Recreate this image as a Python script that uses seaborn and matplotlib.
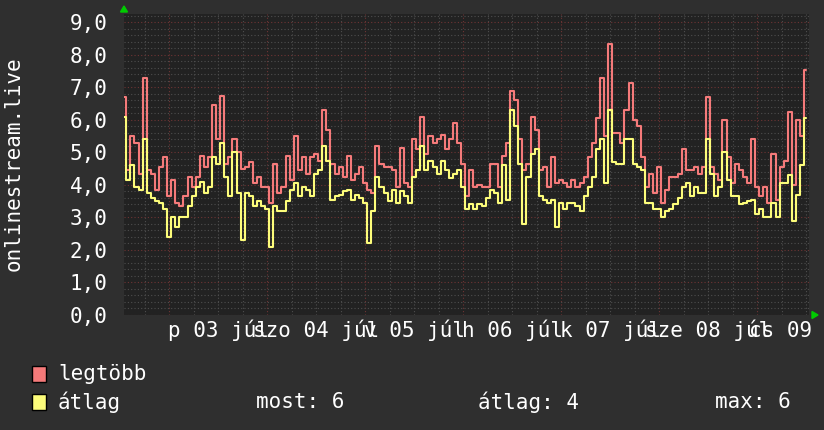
import numpy as np
import pandas as pd
import matplotlib
matplotlib.use("Agg")
import matplotlib.pyplot as plt
import matplotlib.patches as mpatches
from matplotlib.transforms import blended_transform_factory
import seaborn as sns

# ---------------- data ----------------
# hourly samples, hours relative to "p 03 júl" 00:00
hours = np.arange(-11, 157)

legtobb = [
    6.7, 4.45, 5.5, 5.3, 4.35, 7.3, 4.45, 4.35, 3.85, 4.55, 4.85, 3.65, 4.15, 3.45, 3.35,
    3.65, 4.25, 3.95, 4.25, 4.9, 4.55, 4.85, 6.45, 5.4, 6.75, 4.65, 4.85, 5.4, 5.0,
    4.5, 4.55, 4.7, 4.05, 4.25, 3.95, 3.95, 3.45, 4.65, 3.75, 3.95, 4.9, 4.15, 5.5,
    4.45, 4.85, 4.35, 4.85, 4.95, 4.75, 6.3, 5.7, 4.65, 4.35, 4.55, 4.25, 4.9, 4.15,
    4.35, 4.55, 4.05, 3.85, 3.75, 5.2, 4.65, 4.55, 4.55, 4.45, 3.95, 5.15, 4.05, 3.95,
    5.4, 5.1, 6.1, 4.95, 5.5, 5.3, 5.4, 5.55, 5.1, 5.4, 5.9, 5.3, 4.65, 3.65,
    4.45, 3.95, 4.0, 3.95, 3.95, 4.65, 4.65, 3.95, 4.9, 5.3, 6.9, 6.6, 5.4, 4.45,
    4.65, 6.1, 5.7, 4.45, 4.55, 3.95, 4.85, 4.05, 4.15, 4.05, 3.95, 4.15, 3.95, 4.05,
    4.25, 4.85, 5.3, 6.05, 7.3, 5.5, 8.35, 5.6, 5.6, 5.3, 6.3, 7.15, 6.0, 5.8,
    4.85, 3.95, 4.35, 3.75, 4.55, 3.45, 3.85, 4.25, 4.25, 4.35, 5.1, 4.45, 4.45, 4.55,
    4.35, 4.55, 6.7, 4.55, 4.35, 4.15, 6.0, 4.85, 4.05, 4.65, 4.45, 4.25, 4.05, 5.4,
    3.95, 3.65, 3.95, 3.45, 4.95, 3.55, 4.55, 4.75, 6.25, 4.0, 6.0, 5.5, 7.55,
]

atlag = [
    6.1, 4.15, 4.6, 3.95, 3.85, 5.4, 3.75, 3.6, 3.5, 3.45, 3.25, 2.4, 3.0, 2.7, 3.0,
    3.0, 3.35, 3.65, 3.95, 4.1, 3.75, 3.95, 4.85, 4.65, 5.3, 4.25, 3.65, 5.0, 3.75,
    2.3, 3.75, 3.65, 3.35, 3.5, 3.35, 3.25, 2.1, 3.35, 3.2, 3.2, 3.5, 3.85, 4.05,
    3.65, 3.95, 3.85, 3.65, 4.35, 4.45, 5.2, 4.75, 3.55, 3.65, 3.7, 3.8, 3.85, 3.55,
    3.7, 3.6, 3.45, 2.2, 3.2, 4.25, 3.95, 3.75, 3.5, 3.85, 3.45, 3.8, 3.65, 3.45,
    4.25, 4.45, 5.2, 4.45, 4.75, 4.55, 4.35, 4.75, 4.45, 4.2, 4.35, 4.45, 3.95, 3.25,
    3.4, 3.25, 3.4, 3.35, 3.6, 3.85, 3.75, 3.45, 4.6, 3.55, 6.3, 5.8, 4.65, 2.8,
    4.25, 4.95, 5.1, 3.65, 3.55, 3.45, 3.55, 2.7, 3.45, 3.25, 3.45, 3.45, 3.35, 3.2,
    3.65, 3.95, 4.25, 5.1, 5.4, 4.05, 6.3, 4.7, 4.65, 4.65, 5.4, 5.4, 4.65, 4.55,
    4.45, 3.45, 3.45, 3.25, 3.25, 3.0, 3.2, 3.25, 3.4, 3.6, 3.95, 4.05, 3.65, 3.95,
    3.75, 3.75, 5.4, 4.35, 3.65, 3.95, 5.0, 4.15, 3.65, 3.65, 3.4, 3.45, 3.5, 3.55,
    3.1, 3.25, 3.0, 3.0, 3.45, 3.0, 4.05, 4.05, 4.3, 2.9, 3.7, 4.6, 6.05,
]

day_labels = ["p 03 júl", "szo 04 júl", "v 05 júl", "h 06 júl",
              "k 07 júl", "sze 08 júl", "cs 09 júl"]
day_label_hours = [12, 36, 60, 84, 108, 132, 156]
y_ticks = [0, 1, 2, 3, 4, 5, 6, 7, 8, 9]
y_tick_labels = ["0,0", "1,0", "2,0", "3,0", "4,0", "5,0", "6,0", "7,0", "8,0", "9,0"]
y_label = "onlinestream.live"
series_names = ["legtöbb", "átlag"]
stat_texts = ["most: 6", "átlag: 4", "max: 6"]

# ---------------- style ----------------
CANVAS = "#2f2f2f"
PLOTBG = "#222222"
RED = "#f57a7a"
YEL = "#fcfc7a"
GRID = "#4e4e4e"
MGRID = "#6e3434"
TXT = "#ffffff"
FS = 15

sns.set_theme(style="dark")
plt.rcParams["font.family"] = ["DejaVu Sans Mono", "DejaVu Sans"]

W, H = 824, 430
fig = plt.figure(figsize=(W / 100, H / 100), dpi=100, facecolor=CANVAS)
ax = fig.add_axes([124 / W, (H - 315) / H, 685 / W, 301 / H])
ax.set_facecolor(PLOTBG)

df = pd.DataFrame({"ora": hours, series_names[0]: legtobb, series_names[1]: atlag})
sns.lineplot(data=df, x="ora", y=series_names[0], ax=ax, color=RED, linewidth=1.5,
             drawstyle="steps-mid", estimator=None, legend=False, zorder=3)
sns.lineplot(data=df, x="ora", y=series_names[1], ax=ax, color=YEL, linewidth=1.5,
             drawstyle="steps-mid", estimator=None, legend=False, zorder=4)

ax.set_xlim(-11.07, 156.7)
ax.set_ylim(0, 9.26)
ax.set_xlabel("")
ax.set_ylabel("")

# grid
ax.set_xticks(np.arange(0, 157, 24))
ax.set_xticks(np.arange(-6, 157, 6), minor=True)
ax.set_yticks(y_ticks)
ax.set_yticks(np.arange(0, 9.21, 0.2), minor=True)
ax.set_xticklabels([])
ax.set_yticklabels(y_tick_labels, fontsize=FS, color=TXT)
ax.grid(which="minor", color=GRID, linestyle=(0, (1, 2)), linewidth=0.8, zorder=1)
ax.grid(which="major", color=MGRID, linestyle=(0, (1, 2)), linewidth=0.8, zorder=1)
ax.tick_params(axis="y", which="major", length=2, color=MGRID, pad=10, direction="out")
ax.tick_params(axis="y", which="minor", length=2, color=GRID, direction="out")
ax.tick_params(axis="x", which="major", length=3, color=MGRID, direction="out")
ax.tick_params(axis="x", which="minor", length=3, color=GRID, direction="out")
ax.set_axisbelow(True)
for s in ax.spines.values():
    s.set_visible(False)

# x labels centered at noon of each day
tr = blended_transform_factory(ax.transData, ax.transAxes)
for h, lab in zip(day_label_hours, day_labels):
    ax.text(h, -15 / 301, lab, transform=tr, ha="center", va="center",
            fontsize=FS, color=TXT, clip_on=False)

# y label
fig.text(14 / W, 1 - 164 / H, y_label, rotation=90, ha="center", va="center",
         fontsize=FS, color=TXT)

# arrows
def fx(px):
    return px / W

def fy(py):
    return 1 - py / H

fig.add_artist(mpatches.Polygon([(fx(124), fy(6)), (fx(120.5), fy(12)), (fx(127.5), fy(12))],
                                closed=True, color="#00cc00", transform=fig.transFigure))
fig.add_artist(mpatches.Polygon([(fx(818), fy(315)), (fx(812), fy(311.5)), (fx(812), fy(318.5))],
                                closed=True, color="#00cc00", transform=fig.transFigure))

# legend
for i, (name, col) in enumerate(zip(series_names, [RED, YEL])):
    yc = 374 + 28 * i
    fig.add_artist(mpatches.Rectangle((fx(32), fy(yc + 8)), 14 / W, 16 / H,
                                      facecolor=col, edgecolor="black", linewidth=1,
                                      transform=fig.transFigure))
    fig.text(fx(58), fy(yc), name, ha="left", va="center", fontsize=FS, color=TXT)

for xs, t in zip([256, 478, 715], stat_texts):
    fig.text(fx(xs), fy(402), t, ha="left", va="center", fontsize=FS, color=TXT)

fig.savefig("out.png", dpi=100, facecolor=CANVAS)
